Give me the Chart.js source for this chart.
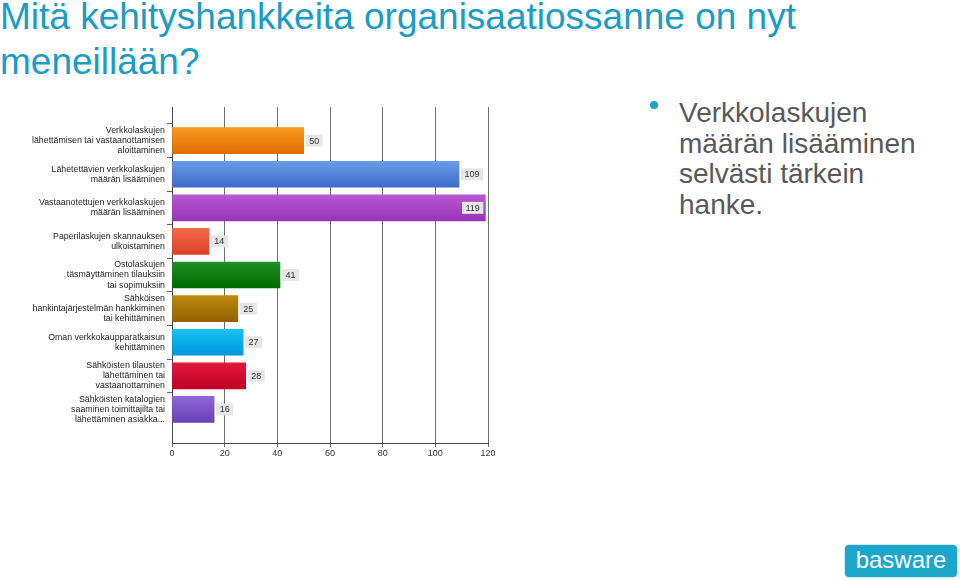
<!DOCTYPE html>
<html>
<head>
<meta charset="utf-8">
<script src="https://cdn.jsdelivr.net/npm/chart.js@4/dist/chart.umd.min.js"></script>
<style>
    body { margin: 0; width: 960px; height: 580px; background: #fff; position: relative; overflow: hidden; font-family: Arial, 'Liberation Sans', sans-serif; }
    .title { position: absolute; left: 0; top: -6px; font-size: 37px; line-height: 45px; color: #1a9cc6; white-space: nowrap; }
    .bullet { position: absolute; left: 679px; top: 98px; font-size: 28px; line-height: 30.5px; color: #595959; }
    .dot { position: absolute; left: 650px; top: 101px; width: 8px; height: 8px; border-radius: 50%; background: #1aa3c9; }
    .chart-box { position: absolute; left: 0; top: 100px; width: 500px; height: 365px; }
    .logo { position: absolute; left: 845px; top: 545px; width: 112px; height: 32px; border-radius: 4px; background: #1ba6cc; color: #fff; font-size: 24px; line-height: 30px; text-align: center; box-shadow: 0 0 0 1px #cfe9f2; }
</style>
</head>
<body>
<div class="title">Mitä kehityshankkeita organisaatiossanne on nyt<br>meneillään?</div>
<div class="dot"></div>
<div class="bullet">Verkkolaskujen<br>määrän lisääminen<br>selvästi tärkein<br>hanke.</div>
<div class="chart-box"><canvas id="projectChart"></canvas></div>
<div class="logo">basware</div>

<script>
const categories = [
    ['Verkkolaskujen', 'lähettämisen tai vastaanottamisen', 'aloittaminen'],
    ['Lähetettävien verkkolaskujen', 'määrän lisääminen'],
    ['Vastaanotettujen verkkolaskujen', 'määrän lisääminen'],
    ['Paperilaskujen skannauksen', 'ulkoistaminen'],
    ['Ostolaskujen', 'täsmäyttäminen tilauksiin', 'tai sopimuksiin'],
    ['Sähköisen', 'hankintajärjestelmän hankkiminen', 'tai kehittäminen'],
    ['Oman verkkokaupparatkaisun', 'kehittäminen'],
    ['Sähköisten tilausten', 'lähettäminen tai', 'vastaanottaminen'],
    ['Sähköisten katalogien', 'saaminen toimittajilta tai', 'lähettäminen asiakka...']
];
const answers = [50, 109, 119, 14, 41, 25, 27, 28, 16];
const barTopColors = ['#fa9a20', '#6b9be8', '#b857d4', '#f46a4a', '#21902a', '#bd8a10', '#14c2f4', '#e4183e', '#9068d6'];
const barBottomColors = ['#e06c00', '#3d6cc8', '#9734b4', '#dc4128', '#006a00', '#946000', '#0096dc', '#c00024', '#6a40b4'];
const xTicks = [0, 20, 40, 60, 80, 100, 120];

// empty slots at both ends give the axis its extra room above and below the bars
const labels = [''].concat(categories, ['']);
const values = [null].concat(answers, [null]);

function barFill(context) {
    const chart = context.chart;
    const i = context.dataIndex - 1;
    if (i < 0 || i >= answers.length) return 'rgba(0,0,0,0)';
    if (!chart.chartArea || !chart.scales.y) return barTopColors[i];
    const center = chart.scales.y.getPixelForValue(context.dataIndex);
    const grad = chart.ctx.createLinearGradient(0, center - 13, 0, center + 13);
    grad.addColorStop(0, barTopColors[i]);
    grad.addColorStop(1, barBottomColors[i]);
    return grad;
}

const valueBoxes = {
    id: 'valueBoxes',
    afterDatasetsDraw(chart) {
        const ctx = chart.ctx;
        const meta = chart.getDatasetMeta(0);
        ctx.save();
        ctx.font = '9px Arial, "Liberation Sans", sans-serif';
        ctx.textBaseline = 'middle';
        meta.data.forEach((bar, idx) => {
            const v = values[idx];
            if (v == null) return;
            const text = String(v);
            const w = ctx.measureText(text).width + 7;
            const h = 12;
            let x = bar.x + 2;
            if (x + w > chart.chartArea.right) x = bar.x - 2 - w;
            ctx.fillStyle = '#e6e6e6';
            ctx.fillRect(x, bar.y - h / 2, w, h);
            ctx.fillStyle = '#333';
            ctx.fillText(text, x + 3.5, bar.y + 0.5);
        });
        ctx.restore();
    }
};

Chart.defaults.font.family = 'Arial, "Liberation Sans", sans-serif';

new Chart(document.getElementById('projectChart'), {
    type: 'bar',
    data: {
        labels: labels,
        datasets: [{
            data: values,
            backgroundColor: barFill,
            barThickness: 26
        }]
    },
    options: {
        indexAxis: 'y',
        responsive: true,
        maintainAspectRatio: false,
        animation: false,
        layout: { padding: { top: 5, right: 12, left: 0, bottom: 0 } },
        plugins: {
            legend: { display: false },
            tooltip: { enabled: false }
        },
        scales: {
            x: {
                min: 0,
                max: 120,
                afterFit: scale => { scale.height = 22; },
                afterBuildTicks: scale => { scale.ticks = xTicks.map(v => ({ value: v })); },
                ticks: { color: '#333', font: { size: 9 }, padding: 1, autoSkip: false, maxRotation: 0 },
                grid: { color: '#6e6e6e', lineWidth: 1, tickLength: 4 },
                border: { color: '#444' }
            },
            y: {
                offset: false,
                afterFit: scale => { scale.width = 172; },
                ticks: { color: '#1e1e1e', font: { size: 8.8, lineHeight: 1.15 }, padding: 2, autoSkip: false },
                grid: {
                    drawOnChartArea: false,
                    tickLength: 5,
                    color: c => (c.index === 0 || c.index === labels.length - 1) ? 'rgba(0,0,0,0)' : '#666'
                },
                border: { color: '#444' }
            }
        }
    },
    plugins: [valueBoxes]
});
</script>
</body>
</html>
